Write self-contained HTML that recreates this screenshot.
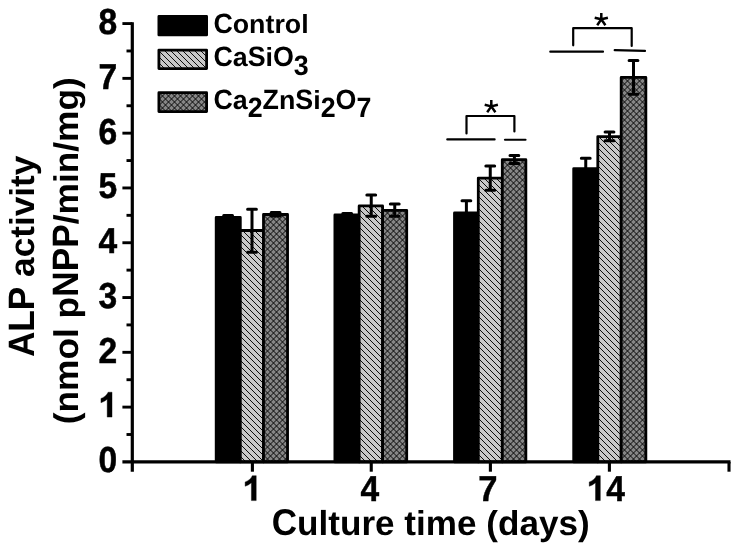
<!DOCTYPE html>
<html><head><meta charset="utf-8"><title>ALP activity</title>
<style>
html,body{margin:0;padding:0;background:#fff;}
body{width:739px;height:551px;overflow:hidden;}
svg{display:block;will-change:transform;}
text{font-family:"Liberation Sans",sans-serif;font-weight:bold;fill:#000;text-rendering:geometricPrecision;font-kerning:none;}
</style></head><body>
<svg width="739" height="551" viewBox="0 0 739 551">
<defs>
<path id="one" stroke="#000" stroke-width="22" stroke-linejoin="miter" d="M810,0 H529 V-1059 Q375,-915 166,-846 V-1101 Q276,-1137 405,-1237.5 Q534,-1338 582,-1472 H810 Z"/>
</defs>
<rect width="739" height="551" fill="#fff"/>

<g>
<rect x="216.20" y="217.40" width="24.10" height="244.50" fill="#000" stroke="#000" stroke-width="2.80" stroke-linejoin="round"/>
<clipPath id="c1"><rect x="240.30" y="230.50" width="23.20" height="231.40"/></clipPath>
<g clip-path="url(#c1)"><rect x="240.30" y="230.50" width="23.20" height="231.40" fill="#c8c8c8"/><path d="M239.3,467.3L264.5,492.5M239.3,461.3L264.5,486.5M239.3,455.3L264.5,480.5M239.3,449.3L264.5,474.5M239.3,443.3L264.5,468.5M239.3,437.3L264.5,462.5M239.3,431.3L264.5,456.5M239.3,425.3L264.5,450.5M239.3,419.3L264.5,444.5M239.3,413.3L264.5,438.5M239.3,407.3L264.5,432.5M239.3,401.3L264.5,426.5M239.3,395.3L264.5,420.5M239.3,389.3L264.5,414.5M239.3,383.3L264.5,408.5M239.3,377.3L264.5,402.5M239.3,371.3L264.5,396.5M239.3,365.3L264.5,390.5M239.3,359.3L264.5,384.5M239.3,353.3L264.5,378.5M239.3,347.3L264.5,372.5M239.3,341.3L264.5,366.5M239.3,335.3L264.5,360.5M239.3,329.3L264.5,354.5M239.3,323.3L264.5,348.5M239.3,317.3L264.5,342.5M239.3,311.3L264.5,336.5M239.3,305.3L264.5,330.5M239.3,299.3L264.5,324.5M239.3,293.3L264.5,318.5M239.3,287.3L264.5,312.5M239.3,281.3L264.5,306.5M239.3,275.3L264.5,300.5M239.3,269.3L264.5,294.5M239.3,263.3L264.5,288.5M239.3,257.3L264.5,282.5M239.3,251.3L264.5,276.5M239.3,245.3L264.5,270.5M239.3,239.3L264.5,264.5M239.3,233.3L264.5,258.5M239.3,227.3L264.5,252.5M239.3,221.3L264.5,246.5M239.3,215.3L264.5,240.5M239.3,209.3L264.5,234.5M239.3,203.3L264.5,228.5M239.3,197.3L264.5,222.5" stroke="#0c0c0c" stroke-width="1.00" fill="none"/></g>
<rect x="240.30" y="230.50" width="23.20" height="231.40" fill="none" stroke="#000" stroke-width="2.80" stroke-linejoin="round"/>
<clipPath id="c2"><rect x="263.50" y="214.50" width="24.05" height="247.40"/></clipPath>
<g clip-path="url(#c2)"><rect x="263.50" y="214.50" width="24.05" height="247.40" fill="#868686"/><path d="M262.5,472.0L288.6,498.1M262.5,466.0L288.6,492.1M262.5,460.0L288.6,486.1M262.5,454.0L288.6,480.1M262.5,448.0L288.6,474.1M262.5,442.0L288.6,468.1M262.5,436.0L288.6,462.1M262.5,430.0L288.6,456.1M262.5,424.0L288.6,450.1M262.5,418.0L288.6,444.1M262.5,412.0L288.6,438.1M262.5,406.0L288.6,432.1M262.5,400.0L288.6,426.1M262.5,394.0L288.6,420.1M262.5,388.0L288.6,414.1M262.5,382.0L288.6,408.1M262.5,376.0L288.6,402.1M262.5,370.0L288.6,396.1M262.5,364.0L288.6,390.1M262.5,358.0L288.6,384.1M262.5,352.0L288.6,378.1M262.5,346.0L288.6,372.1M262.5,340.0L288.6,366.1M262.5,334.0L288.6,360.1M262.5,328.0L288.6,354.1M262.5,322.0L288.6,348.1M262.5,316.0L288.6,342.1M262.5,310.0L288.6,336.1M262.5,304.0L288.6,330.1M262.5,298.0L288.6,324.1M262.5,292.0L288.6,318.1M262.5,286.0L288.6,312.1M262.5,280.0L288.6,306.1M262.5,274.0L288.6,300.1M262.5,268.0L288.6,294.1M262.5,262.0L288.6,288.1M262.5,256.0L288.6,282.1M262.5,250.0L288.6,276.1M262.5,244.0L288.6,270.1M262.5,238.0L288.6,264.1M262.5,232.0L288.6,258.1M262.5,226.0L288.6,252.1M262.5,220.0L288.6,246.1M262.5,214.0L288.6,240.1M262.5,208.0L288.6,234.1M262.5,202.0L288.6,228.1M262.5,196.0L288.6,222.1M262.5,190.0L288.6,216.1M262.5,184.0L288.6,210.1M262.5,178.0L288.6,204.1M262.5,206.0L288.6,179.9M262.5,212.0L288.6,185.9M262.5,218.0L288.6,191.9M262.5,224.0L288.6,197.9M262.5,230.0L288.6,203.9M262.5,236.0L288.6,209.9M262.5,242.0L288.6,215.9M262.5,248.0L288.6,221.9M262.5,254.0L288.6,227.9M262.5,260.0L288.6,233.9M262.5,266.0L288.6,239.9M262.5,272.0L288.6,245.9M262.5,278.0L288.6,251.9M262.5,284.0L288.6,257.9M262.5,290.0L288.6,263.9M262.5,296.0L288.6,269.9M262.5,302.0L288.6,275.9M262.5,308.0L288.6,281.9M262.5,314.0L288.6,287.9M262.5,320.0L288.6,293.9M262.5,326.0L288.6,299.9M262.5,332.0L288.6,305.9M262.5,338.0L288.6,311.9M262.5,344.0L288.6,317.9M262.5,350.0L288.6,323.9M262.5,356.0L288.6,329.9M262.5,362.0L288.6,335.9M262.5,368.0L288.6,341.9M262.5,374.0L288.6,347.9M262.5,380.0L288.6,353.9M262.5,386.0L288.6,359.9M262.5,392.0L288.6,365.9M262.5,398.0L288.6,371.9M262.5,404.0L288.6,377.9M262.5,410.0L288.6,383.9M262.5,416.0L288.6,389.9M262.5,422.0L288.6,395.9M262.5,428.0L288.6,401.9M262.5,434.0L288.6,407.9M262.5,440.0L288.6,413.9M262.5,446.0L288.6,419.9M262.5,452.0L288.6,425.9M262.5,458.0L288.6,431.9M262.5,464.0L288.6,437.9M262.5,470.0L288.6,443.9M262.5,476.0L288.6,449.9M262.5,482.0L288.6,455.9M262.5,488.0L288.6,461.9M262.5,494.0L288.6,467.9" stroke="#080808" stroke-width="1.00" fill="none"/></g>
<rect x="263.50" y="214.50" width="24.05" height="247.40" fill="none" stroke="#000" stroke-width="2.80" stroke-linejoin="round"/>
<rect x="334.90" y="214.90" width="24.25" height="247.00" fill="#000" stroke="#000" stroke-width="2.80" stroke-linejoin="round"/>
<clipPath id="c3"><rect x="359.15" y="205.90" width="23.45" height="256.00"/></clipPath>
<g clip-path="url(#c3)"><rect x="359.15" y="205.90" width="23.45" height="256.00" fill="#c8c8c8"/><path d="M358.1,472.1L383.6,497.6M358.1,466.1L383.6,491.6M358.1,460.1L383.6,485.6M358.1,454.1L383.6,479.6M358.1,448.1L383.6,473.6M358.1,442.1L383.6,467.6M358.1,436.1L383.6,461.6M358.1,430.1L383.6,455.6M358.1,424.1L383.6,449.6M358.1,418.1L383.6,443.6M358.1,412.1L383.6,437.6M358.1,406.1L383.6,431.6M358.1,400.1L383.6,425.6M358.1,394.1L383.6,419.6M358.1,388.1L383.6,413.6M358.1,382.1L383.6,407.6M358.1,376.1L383.6,401.6M358.1,370.1L383.6,395.6M358.1,364.1L383.6,389.6M358.1,358.1L383.6,383.6M358.1,352.1L383.6,377.6M358.1,346.1L383.6,371.6M358.1,340.1L383.6,365.6M358.1,334.1L383.6,359.6M358.1,328.1L383.6,353.6M358.1,322.1L383.6,347.6M358.1,316.1L383.6,341.6M358.1,310.1L383.6,335.6M358.1,304.1L383.6,329.6M358.1,298.1L383.6,323.6M358.1,292.1L383.6,317.6M358.1,286.1L383.6,311.6M358.1,280.1L383.6,305.6M358.1,274.1L383.6,299.6M358.1,268.1L383.6,293.6M358.1,262.1L383.6,287.6M358.1,256.1L383.6,281.6M358.1,250.1L383.6,275.6M358.1,244.1L383.6,269.6M358.1,238.1L383.6,263.6M358.1,232.1L383.6,257.6M358.1,226.1L383.6,251.6M358.1,220.1L383.6,245.6M358.1,214.1L383.6,239.6M358.1,208.1L383.6,233.6M358.1,202.1L383.6,227.6M358.1,196.1L383.6,221.6M358.1,190.1L383.6,215.6M358.1,184.1L383.6,209.6M358.1,178.1L383.6,203.6M358.1,172.1L383.6,197.6" stroke="#0c0c0c" stroke-width="1.00" fill="none"/></g>
<rect x="359.15" y="205.90" width="23.45" height="256.00" fill="none" stroke="#000" stroke-width="2.80" stroke-linejoin="round"/>
<clipPath id="c4"><rect x="382.60" y="210.30" width="24.10" height="251.60"/></clipPath>
<g clip-path="url(#c4)"><rect x="382.60" y="210.30" width="24.10" height="251.60" fill="#868686"/><path d="M381.6,471.1L407.7,497.2M381.6,465.1L407.7,491.2M381.6,459.1L407.7,485.2M381.6,453.1L407.7,479.2M381.6,447.1L407.7,473.2M381.6,441.1L407.7,467.2M381.6,435.1L407.7,461.2M381.6,429.1L407.7,455.2M381.6,423.1L407.7,449.2M381.6,417.1L407.7,443.2M381.6,411.1L407.7,437.2M381.6,405.1L407.7,431.2M381.6,399.1L407.7,425.2M381.6,393.1L407.7,419.2M381.6,387.1L407.7,413.2M381.6,381.1L407.7,407.2M381.6,375.1L407.7,401.2M381.6,369.1L407.7,395.2M381.6,363.1L407.7,389.2M381.6,357.1L407.7,383.2M381.6,351.1L407.7,377.2M381.6,345.1L407.7,371.2M381.6,339.1L407.7,365.2M381.6,333.1L407.7,359.2M381.6,327.1L407.7,353.2M381.6,321.1L407.7,347.2M381.6,315.1L407.7,341.2M381.6,309.1L407.7,335.2M381.6,303.1L407.7,329.2M381.6,297.1L407.7,323.2M381.6,291.1L407.7,317.2M381.6,285.1L407.7,311.2M381.6,279.1L407.7,305.2M381.6,273.1L407.7,299.2M381.6,267.1L407.7,293.2M381.6,261.1L407.7,287.2M381.6,255.1L407.7,281.2M381.6,249.1L407.7,275.2M381.6,243.1L407.7,269.2M381.6,237.1L407.7,263.2M381.6,231.1L407.7,257.2M381.6,225.1L407.7,251.2M381.6,219.1L407.7,245.2M381.6,213.1L407.7,239.2M381.6,207.1L407.7,233.2M381.6,201.1L407.7,227.2M381.6,195.1L407.7,221.2M381.6,189.1L407.7,215.2M381.6,183.1L407.7,209.2M381.6,177.1L407.7,203.2M381.6,200.9L407.7,174.8M381.6,206.9L407.7,180.8M381.6,212.9L407.7,186.8M381.6,218.9L407.7,192.8M381.6,224.9L407.7,198.8M381.6,230.9L407.7,204.8M381.6,236.9L407.7,210.8M381.6,242.9L407.7,216.8M381.6,248.9L407.7,222.8M381.6,254.9L407.7,228.8M381.6,260.9L407.7,234.8M381.6,266.9L407.7,240.8M381.6,272.9L407.7,246.8M381.6,278.9L407.7,252.8M381.6,284.9L407.7,258.8M381.6,290.9L407.7,264.8M381.6,296.9L407.7,270.8M381.6,302.9L407.7,276.8M381.6,308.9L407.7,282.8M381.6,314.9L407.7,288.8M381.6,320.9L407.7,294.8M381.6,326.9L407.7,300.8M381.6,332.9L407.7,306.8M381.6,338.9L407.7,312.8M381.6,344.9L407.7,318.8M381.6,350.9L407.7,324.8M381.6,356.9L407.7,330.8M381.6,362.9L407.7,336.8M381.6,368.9L407.7,342.8M381.6,374.9L407.7,348.8M381.6,380.9L407.7,354.8M381.6,386.9L407.7,360.8M381.6,392.9L407.7,366.8M381.6,398.9L407.7,372.8M381.6,404.9L407.7,378.8M381.6,410.9L407.7,384.8M381.6,416.9L407.7,390.8M381.6,422.9L407.7,396.8M381.6,428.9L407.7,402.8M381.6,434.9L407.7,408.8M381.6,440.9L407.7,414.8M381.6,446.9L407.7,420.8M381.6,452.9L407.7,426.8M381.6,458.9L407.7,432.8M381.6,464.9L407.7,438.8M381.6,470.9L407.7,444.8M381.6,476.9L407.7,450.8M381.6,482.9L407.7,456.8M381.6,488.9L407.7,462.8M381.6,494.9L407.7,468.8" stroke="#080808" stroke-width="1.00" fill="none"/></g>
<rect x="382.60" y="210.30" width="24.10" height="251.60" fill="none" stroke="#000" stroke-width="2.80" stroke-linejoin="round"/>
<rect x="454.50" y="213.00" width="23.80" height="248.90" fill="#000" stroke="#000" stroke-width="2.80" stroke-linejoin="round"/>
<clipPath id="c5"><rect x="478.30" y="178.10" width="24.00" height="283.80"/></clipPath>
<g clip-path="url(#c5)"><rect x="478.30" y="178.10" width="24.00" height="283.80" fill="#c8c8c8"/><path d="M477.3,471.3L503.3,497.3M477.3,465.3L503.3,491.3M477.3,459.3L503.3,485.3M477.3,453.3L503.3,479.3M477.3,447.3L503.3,473.3M477.3,441.3L503.3,467.3M477.3,435.3L503.3,461.3M477.3,429.3L503.3,455.3M477.3,423.3L503.3,449.3M477.3,417.3L503.3,443.3M477.3,411.3L503.3,437.3M477.3,405.3L503.3,431.3M477.3,399.3L503.3,425.3M477.3,393.3L503.3,419.3M477.3,387.3L503.3,413.3M477.3,381.3L503.3,407.3M477.3,375.3L503.3,401.3M477.3,369.3L503.3,395.3M477.3,363.3L503.3,389.3M477.3,357.3L503.3,383.3M477.3,351.3L503.3,377.3M477.3,345.3L503.3,371.3M477.3,339.3L503.3,365.3M477.3,333.3L503.3,359.3M477.3,327.3L503.3,353.3M477.3,321.3L503.3,347.3M477.3,315.3L503.3,341.3M477.3,309.3L503.3,335.3M477.3,303.3L503.3,329.3M477.3,297.3L503.3,323.3M477.3,291.3L503.3,317.3M477.3,285.3L503.3,311.3M477.3,279.3L503.3,305.3M477.3,273.3L503.3,299.3M477.3,267.3L503.3,293.3M477.3,261.3L503.3,287.3M477.3,255.3L503.3,281.3M477.3,249.3L503.3,275.3M477.3,243.3L503.3,269.3M477.3,237.3L503.3,263.3M477.3,231.3L503.3,257.3M477.3,225.3L503.3,251.3M477.3,219.3L503.3,245.3M477.3,213.3L503.3,239.3M477.3,207.3L503.3,233.3M477.3,201.3L503.3,227.3M477.3,195.3L503.3,221.3M477.3,189.3L503.3,215.3M477.3,183.3L503.3,209.3M477.3,177.3L503.3,203.3M477.3,171.3L503.3,197.3M477.3,165.3L503.3,191.3M477.3,159.3L503.3,185.3M477.3,153.3L503.3,179.3M477.3,147.3L503.3,173.3M477.3,141.3L503.3,167.3" stroke="#0c0c0c" stroke-width="1.00" fill="none"/></g>
<rect x="478.30" y="178.10" width="24.00" height="283.80" fill="none" stroke="#000" stroke-width="2.80" stroke-linejoin="round"/>
<clipPath id="c6"><rect x="502.30" y="159.70" width="23.55" height="302.20"/></clipPath>
<g clip-path="url(#c6)"><rect x="502.30" y="159.70" width="23.55" height="302.20" fill="#868686"/><path d="M501.3,470.8L526.9,496.4M501.3,464.8L526.9,490.4M501.3,458.8L526.9,484.4M501.3,452.8L526.9,478.4M501.3,446.8L526.9,472.4M501.3,440.8L526.9,466.4M501.3,434.8L526.9,460.4M501.3,428.8L526.9,454.4M501.3,422.8L526.9,448.4M501.3,416.8L526.9,442.4M501.3,410.8L526.9,436.4M501.3,404.8L526.9,430.4M501.3,398.8L526.9,424.4M501.3,392.8L526.9,418.4M501.3,386.8L526.9,412.4M501.3,380.8L526.9,406.4M501.3,374.8L526.9,400.4M501.3,368.8L526.9,394.4M501.3,362.8L526.9,388.4M501.3,356.8L526.9,382.4M501.3,350.8L526.9,376.4M501.3,344.8L526.9,370.4M501.3,338.8L526.9,364.4M501.3,332.8L526.9,358.4M501.3,326.8L526.9,352.4M501.3,320.8L526.9,346.4M501.3,314.8L526.9,340.4M501.3,308.8L526.9,334.4M501.3,302.8L526.9,328.4M501.3,296.8L526.9,322.4M501.3,290.8L526.9,316.4M501.3,284.8L526.9,310.4M501.3,278.8L526.9,304.4M501.3,272.8L526.9,298.4M501.3,266.8L526.9,292.4M501.3,260.8L526.9,286.4M501.3,254.8L526.9,280.4M501.3,248.8L526.9,274.4M501.3,242.8L526.9,268.4M501.3,236.8L526.9,262.4M501.3,230.8L526.9,256.4M501.3,224.8L526.9,250.4M501.3,218.8L526.9,244.4M501.3,212.8L526.9,238.4M501.3,206.8L526.9,232.4M501.3,200.8L526.9,226.4M501.3,194.8L526.9,220.4M501.3,188.8L526.9,214.4M501.3,182.8L526.9,208.4M501.3,176.8L526.9,202.4M501.3,170.8L526.9,196.4M501.3,164.8L526.9,190.4M501.3,158.8L526.9,184.4M501.3,152.8L526.9,178.4M501.3,146.8L526.9,172.4M501.3,140.8L526.9,166.4M501.3,134.8L526.9,160.4M501.3,128.8L526.9,154.4M501.3,122.8L526.9,148.4M501.3,153.2L526.9,127.6M501.3,159.2L526.9,133.6M501.3,165.2L526.9,139.6M501.3,171.2L526.9,145.6M501.3,177.2L526.9,151.6M501.3,183.2L526.9,157.6M501.3,189.2L526.9,163.6M501.3,195.2L526.9,169.6M501.3,201.2L526.9,175.6M501.3,207.2L526.9,181.6M501.3,213.2L526.9,187.6M501.3,219.2L526.9,193.6M501.3,225.2L526.9,199.6M501.3,231.2L526.9,205.6M501.3,237.2L526.9,211.6M501.3,243.2L526.9,217.6M501.3,249.2L526.9,223.6M501.3,255.2L526.9,229.6M501.3,261.2L526.9,235.6M501.3,267.2L526.9,241.6M501.3,273.2L526.9,247.6M501.3,279.2L526.9,253.6M501.3,285.2L526.9,259.6M501.3,291.2L526.9,265.6M501.3,297.2L526.9,271.6M501.3,303.2L526.9,277.6M501.3,309.2L526.9,283.6M501.3,315.2L526.9,289.6M501.3,321.2L526.9,295.6M501.3,327.2L526.9,301.6M501.3,333.2L526.9,307.6M501.3,339.2L526.9,313.6M501.3,345.2L526.9,319.6M501.3,351.2L526.9,325.6M501.3,357.2L526.9,331.6M501.3,363.2L526.9,337.6M501.3,369.2L526.9,343.6M501.3,375.2L526.9,349.6M501.3,381.2L526.9,355.6M501.3,387.2L526.9,361.6M501.3,393.2L526.9,367.6M501.3,399.2L526.9,373.6M501.3,405.2L526.9,379.6M501.3,411.2L526.9,385.6M501.3,417.2L526.9,391.6M501.3,423.2L526.9,397.6M501.3,429.2L526.9,403.6M501.3,435.2L526.9,409.6M501.3,441.2L526.9,415.6M501.3,447.2L526.9,421.6M501.3,453.2L526.9,427.6M501.3,459.2L526.9,433.6M501.3,465.2L526.9,439.6M501.3,471.2L526.9,445.6M501.3,477.2L526.9,451.6M501.3,483.2L526.9,457.6M501.3,489.2L526.9,463.6M501.3,495.2L526.9,469.6" stroke="#080808" stroke-width="1.00" fill="none"/></g>
<rect x="502.30" y="159.70" width="23.55" height="302.20" fill="none" stroke="#000" stroke-width="2.80" stroke-linejoin="round"/>
<rect x="573.70" y="168.60" width="24.10" height="293.30" fill="#000" stroke="#000" stroke-width="2.80" stroke-linejoin="round"/>
<clipPath id="c7"><rect x="597.80" y="136.60" width="23.40" height="325.30"/></clipPath>
<g clip-path="url(#c7)"><rect x="597.80" y="136.60" width="23.40" height="325.30" fill="#c8c8c8"/><path d="M596.8,470.8L622.2,496.2M596.8,464.8L622.2,490.2M596.8,458.8L622.2,484.2M596.8,452.8L622.2,478.2M596.8,446.8L622.2,472.2M596.8,440.8L622.2,466.2M596.8,434.8L622.2,460.2M596.8,428.8L622.2,454.2M596.8,422.8L622.2,448.2M596.8,416.8L622.2,442.2M596.8,410.8L622.2,436.2M596.8,404.8L622.2,430.2M596.8,398.8L622.2,424.2M596.8,392.8L622.2,418.2M596.8,386.8L622.2,412.2M596.8,380.8L622.2,406.2M596.8,374.8L622.2,400.2M596.8,368.8L622.2,394.2M596.8,362.8L622.2,388.2M596.8,356.8L622.2,382.2M596.8,350.8L622.2,376.2M596.8,344.8L622.2,370.2M596.8,338.8L622.2,364.2M596.8,332.8L622.2,358.2M596.8,326.8L622.2,352.2M596.8,320.8L622.2,346.2M596.8,314.8L622.2,340.2M596.8,308.8L622.2,334.2M596.8,302.8L622.2,328.2M596.8,296.8L622.2,322.2M596.8,290.8L622.2,316.2M596.8,284.8L622.2,310.2M596.8,278.8L622.2,304.2M596.8,272.8L622.2,298.2M596.8,266.8L622.2,292.2M596.8,260.8L622.2,286.2M596.8,254.8L622.2,280.2M596.8,248.8L622.2,274.2M596.8,242.8L622.2,268.2M596.8,236.8L622.2,262.2M596.8,230.8L622.2,256.2M596.8,224.8L622.2,250.2M596.8,218.8L622.2,244.2M596.8,212.8L622.2,238.2M596.8,206.8L622.2,232.2M596.8,200.8L622.2,226.2M596.8,194.8L622.2,220.2M596.8,188.8L622.2,214.2M596.8,182.8L622.2,208.2M596.8,176.8L622.2,202.2M596.8,170.8L622.2,196.2M596.8,164.8L622.2,190.2M596.8,158.8L622.2,184.2M596.8,152.8L622.2,178.2M596.8,146.8L622.2,172.2M596.8,140.8L622.2,166.2M596.8,134.8L622.2,160.2M596.8,128.8L622.2,154.2M596.8,122.8L622.2,148.2M596.8,116.8L622.2,142.2M596.8,110.8L622.2,136.2M596.8,104.8L622.2,130.2" stroke="#0c0c0c" stroke-width="1.00" fill="none"/></g>
<rect x="597.80" y="136.60" width="23.40" height="325.30" fill="none" stroke="#000" stroke-width="2.80" stroke-linejoin="round"/>
<clipPath id="c8"><rect x="621.20" y="77.40" width="24.65" height="384.50"/></clipPath>
<g clip-path="url(#c8)"><rect x="621.20" y="77.40" width="24.65" height="384.50" fill="#868686"/><path d="M620.2,469.7L646.9,496.4M620.2,463.7L646.9,490.4M620.2,457.7L646.9,484.4M620.2,451.7L646.9,478.4M620.2,445.7L646.9,472.4M620.2,439.7L646.9,466.4M620.2,433.7L646.9,460.4M620.2,427.7L646.9,454.4M620.2,421.7L646.9,448.4M620.2,415.7L646.9,442.4M620.2,409.7L646.9,436.4M620.2,403.7L646.9,430.4M620.2,397.7L646.9,424.4M620.2,391.7L646.9,418.4M620.2,385.7L646.9,412.4M620.2,379.7L646.9,406.4M620.2,373.7L646.9,400.4M620.2,367.7L646.9,394.4M620.2,361.7L646.9,388.4M620.2,355.7L646.9,382.4M620.2,349.7L646.9,376.4M620.2,343.7L646.9,370.4M620.2,337.7L646.9,364.4M620.2,331.7L646.9,358.4M620.2,325.7L646.9,352.4M620.2,319.7L646.9,346.4M620.2,313.7L646.9,340.4M620.2,307.7L646.9,334.4M620.2,301.7L646.9,328.4M620.2,295.7L646.9,322.4M620.2,289.7L646.9,316.4M620.2,283.7L646.9,310.4M620.2,277.7L646.9,304.4M620.2,271.7L646.9,298.4M620.2,265.7L646.9,292.4M620.2,259.7L646.9,286.4M620.2,253.7L646.9,280.4M620.2,247.7L646.9,274.4M620.2,241.7L646.9,268.4M620.2,235.7L646.9,262.4M620.2,229.7L646.9,256.4M620.2,223.7L646.9,250.4M620.2,217.7L646.9,244.4M620.2,211.7L646.9,238.4M620.2,205.7L646.9,232.4M620.2,199.7L646.9,226.4M620.2,193.7L646.9,220.4M620.2,187.7L646.9,214.4M620.2,181.7L646.9,208.4M620.2,175.7L646.9,202.4M620.2,169.7L646.9,196.4M620.2,163.7L646.9,190.4M620.2,157.7L646.9,184.4M620.2,151.7L646.9,178.4M620.2,145.7L646.9,172.4M620.2,139.7L646.9,166.4M620.2,133.7L646.9,160.4M620.2,127.7L646.9,154.4M620.2,121.7L646.9,148.4M620.2,115.7L646.9,142.4M620.2,109.7L646.9,136.4M620.2,103.7L646.9,130.4M620.2,97.7L646.9,124.4M620.2,91.7L646.9,118.4M620.2,85.7L646.9,112.4M620.2,79.7L646.9,106.4M620.2,73.7L646.9,100.4M620.2,67.7L646.9,94.4M620.2,61.7L646.9,88.4M620.2,55.7L646.9,82.4M620.2,49.7L646.9,76.4M620.2,43.7L646.9,70.4M620.2,70.3L646.9,43.6M620.2,76.3L646.9,49.6M620.2,82.3L646.9,55.6M620.2,88.3L646.9,61.6M620.2,94.3L646.9,67.6M620.2,100.3L646.9,73.6M620.2,106.3L646.9,79.6M620.2,112.3L646.9,85.6M620.2,118.3L646.9,91.6M620.2,124.3L646.9,97.6M620.2,130.3L646.9,103.6M620.2,136.3L646.9,109.6M620.2,142.3L646.9,115.6M620.2,148.3L646.9,121.6M620.2,154.3L646.9,127.6M620.2,160.3L646.9,133.6M620.2,166.3L646.9,139.6M620.2,172.3L646.9,145.6M620.2,178.3L646.9,151.6M620.2,184.3L646.9,157.6M620.2,190.3L646.9,163.6M620.2,196.3L646.9,169.6M620.2,202.3L646.9,175.6M620.2,208.3L646.9,181.6M620.2,214.3L646.9,187.6M620.2,220.3L646.9,193.6M620.2,226.3L646.9,199.6M620.2,232.3L646.9,205.6M620.2,238.3L646.9,211.6M620.2,244.3L646.9,217.6M620.2,250.3L646.9,223.6M620.2,256.3L646.9,229.6M620.2,262.3L646.9,235.6M620.2,268.3L646.9,241.6M620.2,274.3L646.9,247.6M620.2,280.3L646.9,253.6M620.2,286.3L646.9,259.6M620.2,292.3L646.9,265.6M620.2,298.3L646.9,271.6M620.2,304.3L646.9,277.6M620.2,310.3L646.9,283.6M620.2,316.3L646.9,289.6M620.2,322.3L646.9,295.6M620.2,328.3L646.9,301.6M620.2,334.3L646.9,307.6M620.2,340.3L646.9,313.6M620.2,346.3L646.9,319.6M620.2,352.3L646.9,325.6M620.2,358.3L646.9,331.6M620.2,364.3L646.9,337.6M620.2,370.3L646.9,343.6M620.2,376.3L646.9,349.6M620.2,382.3L646.9,355.6M620.2,388.3L646.9,361.6M620.2,394.3L646.9,367.6M620.2,400.3L646.9,373.6M620.2,406.3L646.9,379.6M620.2,412.3L646.9,385.6M620.2,418.3L646.9,391.6M620.2,424.3L646.9,397.6M620.2,430.3L646.9,403.6M620.2,436.3L646.9,409.6M620.2,442.3L646.9,415.6M620.2,448.3L646.9,421.6M620.2,454.3L646.9,427.6M620.2,460.3L646.9,433.6M620.2,466.3L646.9,439.6M620.2,472.3L646.9,445.6M620.2,478.3L646.9,451.6M620.2,484.3L646.9,457.6M620.2,490.3L646.9,463.6M620.2,496.3L646.9,469.6" stroke="#080808" stroke-width="1.00" fill="none"/></g>
<rect x="621.20" y="77.40" width="24.65" height="384.50" fill="none" stroke="#000" stroke-width="2.80" stroke-linejoin="round"/>
</g>
<g stroke="#000" stroke-width="3" fill="none" stroke-linecap="butt">
<path d="M228.10,215.40 V219.40"/><path stroke-linecap="round" d="M223.70,215.40 H232.50 M223.70,219.40 H232.50"/>
<path d="M252.00,209.20 V252.20"/><path stroke-linecap="round" d="M247.60,209.20 H256.40 M247.60,252.20 H256.40"/>
<path d="M275.60,212.50 V216.00"/><path stroke-linecap="round" d="M271.20,212.50 H280.00 M271.20,216.00 H280.00"/>
<path d="M347.20,213.60 V216.20"/><path stroke-linecap="round" d="M342.80,213.60 H351.60 M342.80,216.20 H351.60"/>
<path d="M371.25,195.00 V216.25"/><path stroke-linecap="round" d="M366.85,195.00 H375.65 M366.85,216.25 H375.65"/>
<path d="M394.75,204.00 V216.25"/><path stroke-linecap="round" d="M390.35,204.00 H399.15 M390.35,216.25 H399.15"/>
<path d="M466.40,200.80 V225.20"/><path stroke-linecap="round" d="M462.00,200.80 H470.80 M462.00,225.20 H470.80"/>
<path d="M490.25,166.00 V190.30"/><path stroke-linecap="round" d="M485.85,166.00 H494.65 M485.85,190.30 H494.65"/>
<path d="M514.40,155.40 V163.60"/><path stroke-linecap="round" d="M510.00,155.40 H518.80 M510.00,163.60 H518.80"/>
<path d="M585.75,158.20 V179.00"/><path stroke-linecap="round" d="M581.35,158.20 H590.15 M581.35,179.00 H590.15"/>
<path d="M609.50,131.90 V140.80"/><path stroke-linecap="round" d="M605.10,131.90 H613.90 M605.10,140.80 H613.90"/>
<path d="M633.50,60.60 V94.20"/><path stroke-linecap="round" d="M629.10,60.60 H637.90 M629.10,94.20 H637.90"/>
</g>
<g stroke="#000" fill="none">
<path d="M132.3,22.2 V471.7" stroke-width="3.2"/>
<path d="M122.4,461.90 H730.5" stroke-width="3.4"/>
<path d="M126.5,434.50 H132.3" stroke-width="2.9"/>
<path d="M122.4,407.11 H132.3" stroke-width="2.9"/>
<path d="M126.5,379.71 H132.3" stroke-width="2.9"/>
<path d="M122.4,352.32 H132.3" stroke-width="2.9"/>
<path d="M126.5,324.92 H132.3" stroke-width="2.9"/>
<path d="M122.4,297.53 H132.3" stroke-width="2.9"/>
<path d="M126.5,270.13 H132.3" stroke-width="2.9"/>
<path d="M122.4,242.74 H132.3" stroke-width="2.9"/>
<path d="M126.5,215.34 H132.3" stroke-width="2.9"/>
<path d="M122.4,187.95 H132.3" stroke-width="2.9"/>
<path d="M126.5,160.56 H132.3" stroke-width="2.9"/>
<path d="M122.4,133.16 H132.3" stroke-width="2.9"/>
<path d="M126.5,105.76 H132.3" stroke-width="2.9"/>
<path d="M122.4,78.37 H132.3" stroke-width="2.9"/>
<path d="M126.5,50.97 H132.3" stroke-width="2.9"/>
<path d="M122.4,23.58 H132.3" stroke-width="2.9"/>
<path d="M252.40,461.90 V471.7" stroke-width="3.1"/>
<path d="M371.25,461.90 V471.7" stroke-width="3.1"/>
<path d="M490.40,461.90 V471.7" stroke-width="3.1"/>
<path d="M609.40,461.90 V471.7" stroke-width="3.1"/>
<path d="M729.00,461.90 V471.7" stroke-width="3.1"/>
</g>
<text transform="translate(117.20,472.40) scale(0.960,1.030)" font-size="35" text-anchor="end" stroke="#000" stroke-width="0.5">0</text>
<use href="#one" transform="translate(98.10,417.11) scale(0.01719,0.01693)"/>
<text transform="translate(117.20,362.82) scale(0.960,1.030)" font-size="35" text-anchor="end" stroke="#000" stroke-width="0.5">2</text>
<text transform="translate(117.20,308.03) scale(0.960,1.030)" font-size="35" text-anchor="end" stroke="#000" stroke-width="0.5">3</text>
<text transform="translate(117.20,253.24) scale(0.960,1.030)" font-size="35" text-anchor="end" stroke="#000" stroke-width="0.5">4</text>
<text transform="translate(117.20,198.45) scale(0.960,1.030)" font-size="35" text-anchor="end" stroke="#000" stroke-width="0.5">5</text>
<text transform="translate(117.20,143.66) scale(0.960,1.030)" font-size="35" text-anchor="end" stroke="#000" stroke-width="0.5">6</text>
<text transform="translate(117.20,88.87) scale(0.960,1.030)" font-size="35" text-anchor="end" stroke="#000" stroke-width="0.5">7</text>
<text transform="translate(117.20,34.08) scale(0.960,1.030)" font-size="35" text-anchor="end" stroke="#000" stroke-width="0.5">8</text>
<use href="#one" transform="translate(242.30,500.60) scale(0.01719,0.01693)"/>
<text transform="translate(360.40,500.60) scale(0.960,1.025)" font-size="35" stroke="#000" stroke-width="0.4">4</text>
<text transform="translate(478.20,500.60) scale(0.990,1.025)" font-size="35" stroke="#000" stroke-width="0.4">7</text>
<use href="#one" transform="translate(586.40,500.60) scale(0.01719,0.01693)"/>
<text transform="translate(606.30,500.60) scale(0.960,1.025)" font-size="35" stroke="#000" stroke-width="0.4">4</text>
<g transform="translate(271.70,534.80)" font-size="35">
<text transform="translate(0.00,0.00) scale(1.003,1.065)">C</text>
<text transform="translate(25.35,0.00) scale(1.003,0.990)">ulture</text>
<text transform="translate(132.62,0.00) scale(1.003,0.990)">time</text>
<text transform="translate(214.56,0.00) scale(1.003,0.990)">(days)</text>
</g>
<g transform="translate(33.60,357.10) rotate(-90)" font-size="35">
<text transform="translate(0.00,0.00) scale(1.006,1.050)">ALP</text>
<text transform="translate(80.16,0.00) scale(1.006,0.985)">activity</text>
</g>
<g transform="translate(78.30,424.20) rotate(-90)" font-size="35">
<text transform="translate(0.00,0.00) scale(1.008,0.980)">(nmol</text>
<text transform="translate(105.82,0.00) scale(1.008,0.980)">p</text>
<text transform="translate(127.37,0.00) scale(1.008,1.050)">NPP</text>
<text transform="translate(199.91,0.00) scale(1.008,0.980)">/min/mg)</text>
</g>
<rect x="158.9" y="16.5" width="47.7" height="18.4" fill="#000" stroke="#000" stroke-width="2.8" stroke-linejoin="round"/>
<clipPath id="c9"><rect x="158.90" y="50.10" width="47.70" height="18.50"/></clipPath>
<g clip-path="url(#c9)"><rect x="158.90" y="50.10" width="47.70" height="18.50" fill="#c8c8c8"/><path d="M157.9,73.9L207.6,123.6M157.9,67.9L207.6,117.6M157.9,61.9L207.6,111.6M157.9,55.9L207.6,105.6M157.9,49.9L207.6,99.6M157.9,43.9L207.6,93.6M157.9,37.9L207.6,87.6M157.9,31.9L207.6,81.6M157.9,25.9L207.6,75.6M157.9,19.9L207.6,69.6M157.9,13.9L207.6,63.6M157.9,7.9L207.6,57.6M157.9,1.9L207.6,51.6M157.9,-4.1L207.6,45.6M157.9,-10.1L207.6,39.6" stroke="#0c0c0c" stroke-width="1.00" fill="none"/></g>
<rect x="158.90" y="50.10" width="47.70" height="18.50" fill="none" stroke="#000" stroke-width="2.80" stroke-linejoin="round"/>
<clipPath id="c10"><rect x="158.90" y="92.70" width="47.70" height="18.90"/></clipPath>
<g clip-path="url(#c10)"><rect x="158.90" y="92.70" width="47.70" height="18.90" fill="#868686"/><path d="M157.9,121.4L207.6,171.1M157.9,115.4L207.6,165.1M157.9,109.4L207.6,159.1M157.9,103.4L207.6,153.1M157.9,97.4L207.6,147.1M157.9,91.4L207.6,141.1M157.9,85.4L207.6,135.1M157.9,79.4L207.6,129.1M157.9,73.4L207.6,123.1M157.9,67.4L207.6,117.1M157.9,61.4L207.6,111.1M157.9,55.4L207.6,105.1M157.9,49.4L207.6,99.1M157.9,43.4L207.6,93.1M157.9,37.4L207.6,87.1M157.9,82.6L207.6,32.9M157.9,88.6L207.6,38.9M157.9,94.6L207.6,44.9M157.9,100.6L207.6,50.9M157.9,106.6L207.6,56.9M157.9,112.6L207.6,62.9M157.9,118.6L207.6,68.9M157.9,124.6L207.6,74.9M157.9,130.6L207.6,80.9M157.9,136.6L207.6,86.9M157.9,142.6L207.6,92.9M157.9,148.6L207.6,98.9M157.9,154.6L207.6,104.9M157.9,160.6L207.6,110.9M157.9,166.6L207.6,116.9M157.9,172.6L207.6,122.9" stroke="#080808" stroke-width="1.00" fill="none"/></g>
<rect x="158.90" y="92.70" width="47.70" height="18.90" fill="none" stroke="#000" stroke-width="2.80" stroke-linejoin="round"/>
<g transform="translate(213.40,32.60)" font-size="26.8">
<text transform="translate(0.00,0.00) scale(1.000,1.045)">C</text>
<text transform="translate(19.35,0.00) scale(1.000,0.980)">ontrol</text>
</g>
<g transform="translate(213.40,66.30)" font-size="26.8">
<text transform="translate(0.00,0.00) scale(1.000,1.045)">C</text>
<text transform="translate(19.35,0.00) scale(1.000,0.980)">a</text>
<text transform="translate(34.26,0.00) scale(1.000,1.045)">S</text>
<text transform="translate(52.13,0.00) scale(1.000,0.980)">i</text>
<text transform="translate(59.58,0.00) scale(1.000,1.045)">O</text>
<text transform="translate(80.43,8.30) scale(1.000,1.045)">3</text>
</g>
<g transform="translate(213.40,108.80)" font-size="26.8">
<text transform="translate(0.00,0.00) scale(1.000,1.045)">C</text>
<text transform="translate(19.35,0.00) scale(1.000,0.980)">a</text>
<text transform="translate(34.26,8.30) scale(1.000,1.045)">2</text>
<text transform="translate(49.16,0.00) scale(1.000,1.045)">Z</text>
<text transform="translate(65.53,0.00) scale(1.000,0.980)">n</text>
<text transform="translate(81.90,0.00) scale(1.000,1.045)">S</text>
<text transform="translate(99.78,0.00) scale(1.000,0.980)">i</text>
<text transform="translate(107.23,8.30) scale(1.000,1.045)">2</text>
<text transform="translate(122.13,0.00) scale(1.000,1.045)">O</text>
<text transform="translate(142.98,8.30) scale(1.000,1.045)">7</text>
</g>
<g stroke="#000" stroke-width="2.2" fill="none" stroke-linecap="round" stroke-linejoin="round">
<path d="M447.3,139.4 H494.6"/>
<path d="M505,139.75 H525.5"/>
<path d="M466.5,133.4 V116 H514.4 V131.5"/>
<path d="M550.3,51.7 H603"/>
<path d="M614.7,50.2 L645,50.9"/>
<path d="M573.2,45.3 V28.2 H631.7 V46"/>
</g>
<path d="M491.30,106.40 L491.30,100.00 M491.30,106.40 L484.70,104.80 M491.30,106.40 L497.90,104.80 M491.30,106.40 L487.20,112.30 M491.30,106.40 L495.40,112.30" stroke="#000" stroke-width="2.5" fill="none" stroke-linecap="butt"/>
<path d="M601.30,19.30 L601.30,12.90 M601.30,19.30 L594.70,17.70 M601.30,19.30 L607.90,17.70 M601.30,19.30 L597.20,25.20 M601.30,19.30 L605.40,25.20" stroke="#000" stroke-width="2.5" fill="none" stroke-linecap="butt"/>
</svg></body></html>
